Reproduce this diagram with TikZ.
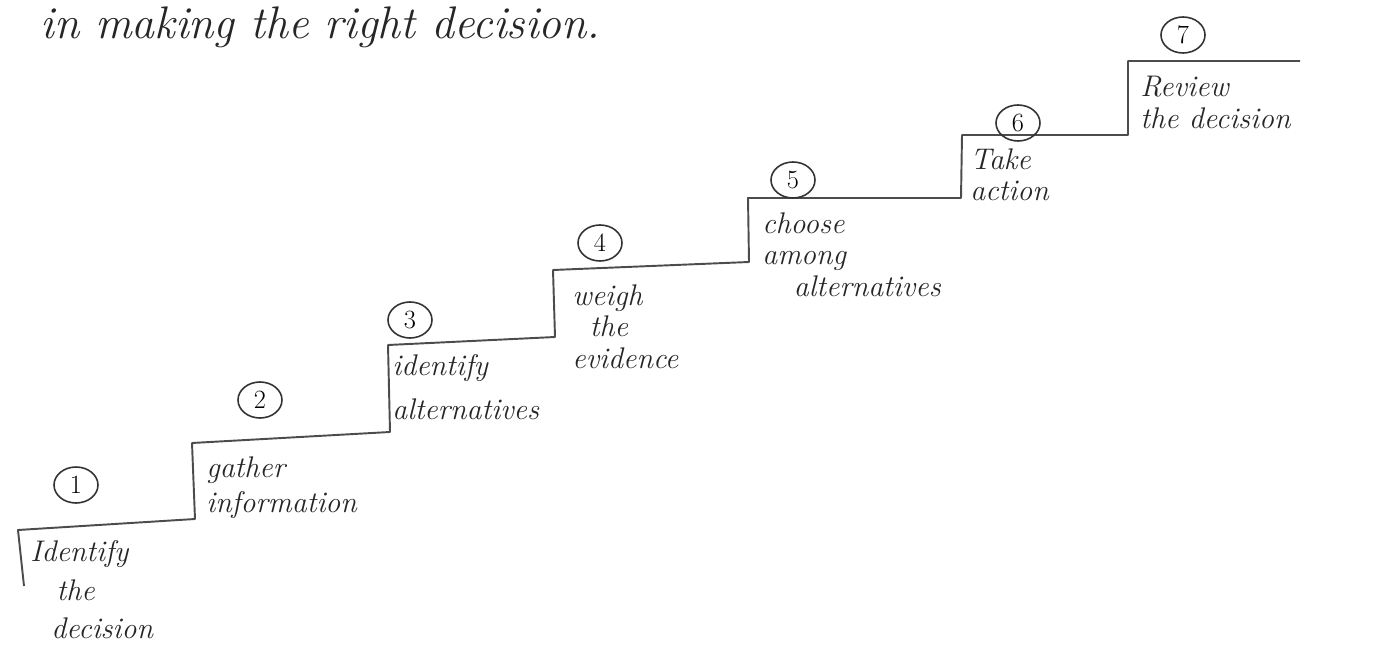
\documentclass[tikz,border=0pt]{standalone}
\usetikzlibrary{shapes.geometric}
\begin{document}
\begin{tikzpicture}[x=0.02cm,y=-0.02cm,
  stair/.style={draw=black!70, line width=1.1pt, line join=round},
  num/.style={draw=black!80, line width=0.9pt, ellipse, inner sep=0pt, minimum width=44*0.02cm, minimum height=36*0.02cm, font=\fontsize{15}{15}\selectfont},
  lbl/.style={anchor=north west, align=left, inner sep=0pt, text=black!85, font=\fontsize{17}{#1}\selectfont\itshape},
  lbl/.default=20
]
\useasboundingbox (0,0) rectangle (1396,662);
% title
\node[anchor=west, inner sep=0pt, text=black!85, font=\fontsize{26}{26}\selectfont\itshape] (title) at (40,27) {in making the right decision.};
% staircase
\coordinate (s0) at (18,530);
\coordinate (s1a) at (195,519); \coordinate (s1b) at (192,443);
\coordinate (s2a) at (390,432); \coordinate (s2b) at (388,345);
\coordinate (s3a) at (555,337); \coordinate (s3b) at (553,270);
\coordinate (s4a) at (749,262); \coordinate (s4b) at (748,198);
\coordinate (s5a) at (961,198); \coordinate (s5b) at (962,135);
\coordinate (s6a) at (1128,135); \coordinate (s6b) at (1128,61);
\coordinate (s7) at (1300,61);
\coordinate (bar) at (24,586);
\draw[stair] (bar) -- (s0) -- (s1a) -- (s1b) -- (s2a) -- (s2b) -- (s3a) -- (s3b) -- (s4a) -- (s4b) -- (s5a) -- (s5b) -- (s6a) -- (s6b) -- (s7);
% numbers
\node[num] (n1) at (76,485) {1};
\node[num] (n2) at (260,400) {2};
\node[num] (n3) at (410,320) {3};
\node[num] (n4) at (600,243) {4};
\node[num] (n5) at (793,180) {5};
\node[num] (n6) at (1018,123) {6};
\node[num] (n7) at (1183,35) {7};
% labels
\node[lbl=22] (l1) at (30,540) {Identify\\\hspace*{15pt}the\\\hspace*{12pt}decision};
\node[lbl=20] (l2) at (206,456) {gather\\information};
\node[lbl=25] (l3) at (392,354) {identify\\alternatives};
\node[lbl=18] (l4) at (572,284) {weigh\\\hspace*{10pt}the\\evidence};
\node[lbl=18] (l5) at (762,212) {choose\\among\\\hspace*{18pt}alternatives};
\node[lbl=18] (l6) at (970,148) {Take\\action};
\node[lbl=18] (l7) at (1140,76) {Review\\the decision};
\end{tikzpicture}
\end{document}
